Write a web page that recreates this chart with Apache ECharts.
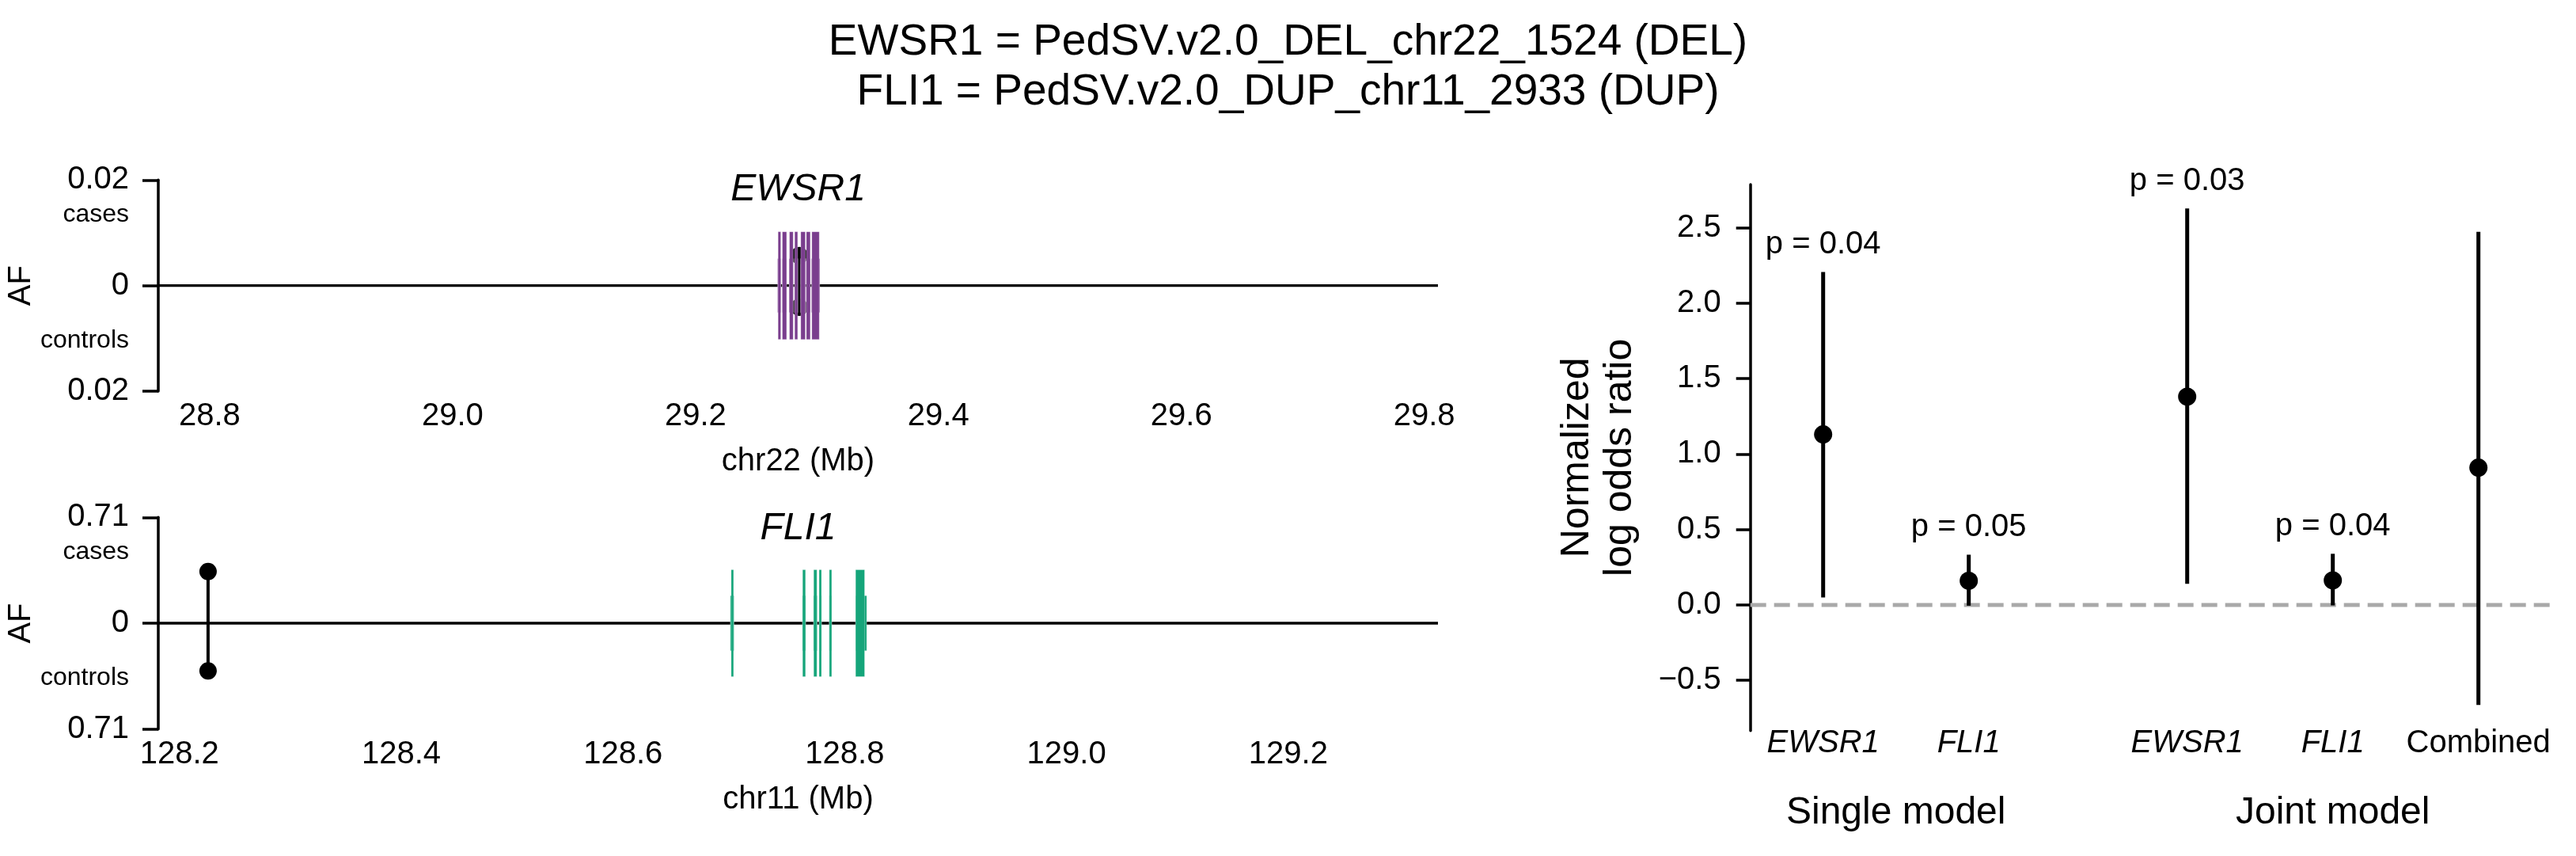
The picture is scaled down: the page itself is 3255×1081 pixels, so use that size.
<!DOCTYPE html>
<html>
<head>
<meta charset="utf-8">
<script src="https://cdn.jsdelivr.net/npm/echarts@6/dist/echarts.min.js"></script>
<style>
html,body{margin:0;padding:0;background:#fff;}
#chart{width:3255px;height:1081px;}
</style>
</head>
<body>
<div id="chart"></div>
<script>
// ---------------- data ----------------
const titleLines = ['EWSR1 = PedSV.v2.0_DEL_chr22_1524 (DEL)', 'FLI1 = PedSV.v2.0_DUP_chr11_2933 (DUP)'];

// EWSR1 panel (chr22)
const ewsr1Gene = 'EWSR1';
const ewsr1XLabel = 'chr22 (Mb)';
const ewsr1XRange = [28.7577, 29.8113];
const ewsr1XTicks = [28.8, 29.0, 29.2, 29.4, 29.6, 29.8];
const ewsr1AFMax = 0.02;
const ewsr1AFLabel = '0.02';
const ewsr1SvPos = 29.2854;
const ewsr1SvCases = 0.0057;
const ewsr1SvControls = 0.0041;
const ewsr1Exons = [[29.2676, 29.2702], [29.2715, 29.2750], [29.2770, 29.2804], [29.2815, 29.2843], [29.2865, 29.2904], [29.2911, 29.2946], [29.2955, 29.3023]];
const ewsr1Cds = [[29.2680, 29.2702], [29.2715, 29.2750], [29.2774, 29.2804], [29.2817, 29.2841], [29.2867, 29.2904], [29.2913, 29.2945], [29.2958, 29.3019]];

// FLI1 panel (chr11)
const fli1Gene = 'FLI1';
const fli1XLabel = 'chr11 (Mb)';
const fli1XRange = [128.1809, 129.335];
const fli1XTicks = [128.2, 128.4, 128.6, 128.8, 129.0, 129.2];
const fli1AFMax = 0.71;
const fli1AFLabel = '0.71';
const fli1SvPos = 128.2258;
const fli1SvCases = 0.346;
const fli1SvControls = 0.32;
const fli1Exons = [[128.6968, 128.7001], [128.7618, 128.7648], [128.7718, 128.7751], [128.7768, 128.7791], [128.7860, 128.7883], [128.8098, 128.8198]];
const fli1Cds = [[128.6977, 128.6996], [128.7620, 128.7646], [128.7720, 128.7749], [128.7770, 128.7789], [128.7862, 128.7881], [128.8098, 128.8179]];

// Forest panel
const forestLabels = ['EWSR1', 'FLI1', 'EWSR1', 'FLI1', 'Combined'];
const forestItalic = [true, true, true, true, false];
const forestSlots = [0, 1, 2.5, 3.5, 4.5];
const forestEst = [1.13, 0.16, 1.38, 0.163, 0.91];
const forestLo = [0.05, -0.005, 0.14, -0.003, -0.663];
const forestHi = [2.206, 0.333, 2.627, 0.339, 2.473];
const forestP = ['0.04', '0.05', '0.03', '0.04', null];
const groupLabels = ['Single model', 'Joint model'];
const groupSlots = [0.5, 3.5];
const forestXRange = [-0.5, 5];
const forestYRange = [-0.833, 2.786];
const forestYTicks = [-0.5, 0, 0.5, 1.0, 1.5, 2.0, 2.5];
const forestYLabel = 'Normalized\nlog odds ratio';

// ---------------- styles ----------------
const FONT = '"Liberation Sans", Arial, Helvetica, sans-serif';
const PURPLE = '#7a3e8e';
const GREEN = '#15a57a';
const AXW = 3.5;

const chart = echarts.init(document.getElementById('chart'), null, {renderer: 'canvas'});

function near(a, b) { return Math.abs(a - b) < 1e-9 * Math.max(1, Math.abs(b)) + 1e-12; }

function afYAxis(gi, M, mLabel) {
  return {
    type: 'value', gridIndex: gi, min: -M, max: M,
    axisLine: {show: true, onZero: false, lineStyle: {color: '#000', width: AXW}},
    axisTick: {show: true, length: 20, lineStyle: {color: '#000', width: AXW}, customValues: [-M, 0, M]},
    splitLine: {show: false},
    axisLabel: {
      customValues: [-M, -0.52 * M, 0, 0.67 * M, M],
      margin: 37, fontSize: 40, color: '#000', fontFamily: FONT,
      formatter: function (v) {
        if (near(Math.abs(v), M)) return mLabel;
        if (near(v, 0)) return '0';
        return v > 0 ? '{s|cases}' : '{s|controls}';
      },
      rich: {s: {fontSize: 32, color: '#000', fontFamily: FONT}}
    },
    name: 'AF', nameLocation: 'middle', nameRotate: 90, nameGap: 137,
    nameTextStyle: {fontSize: 40, color: '#000', fontFamily: FONT}
  };
}

function posXAxis(gi, range, ticks, label) {
  return {
    type: 'value', gridIndex: gi, min: range[0], max: range[1],
    axisLine: {show: false, onZero: false}, axisTick: {show: false}, splitLine: {show: false},
    axisLabel: {
      customValues: ticks, margin: 12, fontSize: 40, color: '#000', fontFamily: FONT,
      formatter: function (v) { return v.toFixed(1); }
    },
    name: label, nameLocation: 'middle', nameGap: 69,
    nameTextStyle: {fontSize: 40, color: '#000', fontFamily: FONT}
  };
}

function zeroLine(gi, range) {
  return {
    type: 'line', xAxisIndex: gi, yAxisIndex: gi, data: [[range[0], 0], [range[1], 0]],
    symbol: 'none', lineStyle: {color: '#000', width: 3.3}, z: 1, silent: true
  };
}

function lollipop(gi, pos, cases, controls) {
  return {
    type: 'line', xAxisIndex: gi, yAxisIndex: gi, data: [[pos, cases], [pos, -controls]],
    symbol: 'circle', symbolSize: 22, itemStyle: {color: '#000', opacity: 1},
    lineStyle: {color: '#000', width: 4}, z: 2, silent: true
  };
}

function geneBars(gi, items, frac, M, color) {
  return {
    type: 'custom', xAxisIndex: gi, yAxisIndex: gi, data: items, encode: {x: [0, 1]}, z: 3, silent: true,
    renderItem: function (params, api) {
      const a = api.coord([api.value(0), M * frac]);
      const b = api.coord([api.value(1), -M * frac]);
      let x = a[0], w = b[0] - a[0];
      if (w < 3) { x -= (3 - w) / 2; w = 3; }
      return {type: 'rect', shape: {x: x, y: a[1], width: w, height: b[1] - a[1]},
        style: {fill: color, stroke: 'rgba(255,255,255,0.45)', lineWidth: 0.6}};
    }
  };
}

const option = {
  animation: false,
  backgroundColor: '#fff',
  textStyle: {fontFamily: FONT},
  grid: [
    {left: 200, top: 227.3, width: 1617, height: 266.7},
    {left: 200, top: 653.3, width: 1617, height: 267.4},
    {left: 2211.7, top: 233, width: 1012, height: 689.7}
  ],
  xAxis: [
    posXAxis(0, ewsr1XRange, ewsr1XTicks, ewsr1XLabel),
    posXAxis(1, fli1XRange, fli1XTicks, fli1XLabel),
    {
      type: 'value', gridIndex: 2, min: forestXRange[0], max: forestXRange[1], position: 'bottom',
      axisLine: {show: false, onZero: false}, axisTick: {show: false}, splitLine: {show: false},
      axisLabel: {
        customValues: forestSlots, margin: -4, fontSize: 40, color: '#000', fontFamily: FONT,
        formatter: function (v) {
          const i = forestSlots.findIndex(s => near(s, v));
          if (i < 0) return '';
          return forestItalic[i] ? '{i|' + forestLabels[i] + '}' : forestLabels[i];
        },
        rich: {i: {fontStyle: 'italic', fontSize: 40, color: '#000', fontFamily: FONT}}
      }
    },
    {
      type: 'value', gridIndex: 2, min: forestXRange[0], max: forestXRange[1], position: 'bottom',
      axisLine: {show: false, onZero: false}, axisTick: {show: false}, splitLine: {show: false},
      axisLabel: {
        customValues: groupSlots, margin: 80, fontSize: 48, color: '#000', fontFamily: FONT,
        formatter: function (v) {
          const i = groupSlots.findIndex(s => near(s, v));
          return i < 0 ? '' : groupLabels[i];
        }
      }
    }
  ],
  yAxis: [
    afYAxis(0, ewsr1AFMax, ewsr1AFLabel),
    afYAxis(1, fli1AFMax, fli1AFLabel),
    {
      type: 'value', gridIndex: 2, min: forestYRange[0], max: forestYRange[1],
      axisLine: {show: true, onZero: false, lineStyle: {color: '#000', width: AXW}},
      axisTick: {show: true, length: 18, lineStyle: {color: '#000', width: AXW}, customValues: forestYTicks},
      splitLine: {show: false},
      axisLabel: {
        customValues: forestYTicks, margin: 37, fontSize: 40, color: '#000', fontFamily: FONT,
        formatter: function (v) { return (v < 0 ? '\u2212' : '') + Math.abs(v).toFixed(1); }
      },
      name: forestYLabel, nameLocation: 'middle', nameRotate: 90, nameGap: 137,
      nameTextStyle: {fontSize: 50, lineHeight: 54, color: '#000', fontFamily: FONT, align: 'center'}
    }
  ],
  series: [
    zeroLine(0, ewsr1XRange),
    lollipop(0, ewsr1SvPos, ewsr1SvCases, ewsr1SvControls),
    geneBars(0, ewsr1Exons, 0.255, ewsr1AFMax, PURPLE),
    geneBars(0, ewsr1Cds, 0.51, ewsr1AFMax, PURPLE),
    zeroLine(1, fli1XRange),
    lollipop(1, fli1SvPos, fli1SvCases, fli1SvControls),
    geneBars(1, fli1Exons, 0.26, fli1AFMax, GREEN),
    geneBars(1, fli1Cds, 0.505, fli1AFMax, GREEN),
    {
      type: 'line', xAxisIndex: 2, yAxisIndex: 2, data: [[forestXRange[0], 0], [forestXRange[1], 0]],
      symbol: 'none', lineStyle: {color: '#a9a9a9', width: 5, type: [20, 10]}, z: 1, silent: true
    },
    {
      type: 'custom', xAxisIndex: 2, yAxisIndex: 2, z: 2, silent: true,
      data: forestSlots.map((s, i) => [s, forestLo[i], forestHi[i]]),
      encode: {x: 0, y: [1, 2]},
      renderItem: function (params, api) {
        const a = api.coord([api.value(0), api.value(1)]);
        const b = api.coord([api.value(0), api.value(2)]);
        return {type: 'line', shape: {x1: a[0], y1: a[1], x2: b[0], y2: b[1]}, style: {stroke: '#000', lineWidth: 5}};
      }
    },
    {
      type: 'scatter', xAxisIndex: 2, yAxisIndex: 2, z: 3, silent: true,
      data: forestSlots.map((s, i) => [s, forestEst[i]]),
      symbol: 'circle', symbolSize: 23, itemStyle: {color: '#000', opacity: 1}
    },
    {
      type: 'scatter', xAxisIndex: 2, yAxisIndex: 2, z: 4, silent: true,
      data: forestSlots.map((s, i) => [s, forestHi[i], forestP[i]]).filter(d => d[2] !== null),
      symbolSize: 1, itemStyle: {color: 'rgba(0,0,0,0)'},
      label: {show: true, position: 'top', distance: 14, fontSize: 40, color: '#000', opacity: 1, fontFamily: FONT,
        formatter: function (p) { return 'p = ' + p.value[2]; }}
    }
  ],
  graphic: [
    {type: 'text', x: 1627.5, y: 54, style: {text: titleLines[0], font: '55px ' + FONT, fill: '#000', textAlign: 'center', textVerticalAlign: 'middle'}},
    {type: 'text', x: 1627.5, y: 117, style: {text: titleLines[1], font: '55px ' + FONT, fill: '#000', textAlign: 'center', textVerticalAlign: 'middle'}},
    {type: 'text', x: 1008.5, y: 240, style: {text: ewsr1Gene, font: 'italic 48px ' + FONT, fill: '#000', textAlign: 'center', textVerticalAlign: 'middle'}},
    {type: 'text', x: 1008.5, y: 668, style: {text: fli1Gene, font: 'italic 48px ' + FONT, fill: '#000', textAlign: 'center', textVerticalAlign: 'middle'}}
  ]
};

chart.setOption(option);
</script>
</body>
</html>
